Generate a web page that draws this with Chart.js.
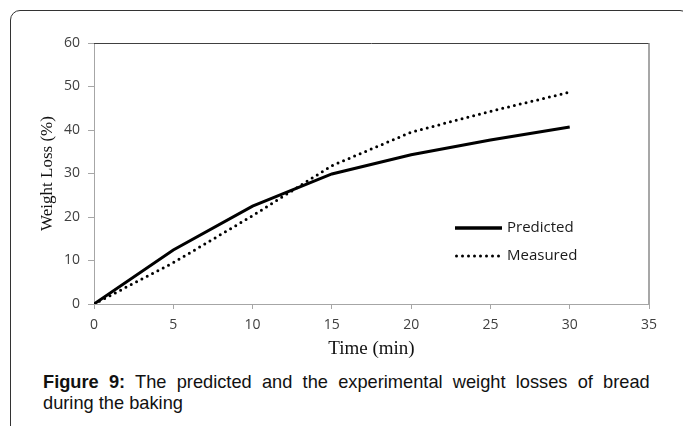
<!DOCTYPE html>
<html>
<head>
<meta charset="utf-8">
<script src="https://cdn.jsdelivr.net/npm/chart.js@4.4.0/dist/chart.umd.min.js"></script>
<style>
  html, body { margin: 0; padding: 0; background: #fff; width: 683px; height: 426px; overflow: hidden; }
  #frame { position: absolute; left: 10px; top: 10px; width: 680px; height: 440px;
           border: 1px solid #333; border-radius: 10px; box-sizing: border-box; }
  #wrap { position: absolute; left: 0; top: 0; width: 683px; height: 370px; }
  .cap { position: absolute; left: 43px; width: 632px; font-family: "Liberation Sans", Arial, sans-serif;
         font-size: 19px; line-height: 21px; color: #111; white-space: nowrap;
         transform: scaleX(0.96); transform-origin: left top; }
  #cap1 { top: 371px; text-align: justify; text-align-last: justify; white-space: normal; }
  #cap2 { top: 392px; }
</style>
</head>
<body>
<div id="frame"></div>
<div id="wrap"><canvas id="lossChart" width="683" height="370"></canvas></div>
<div class="cap" id="cap1"><b>Figure 9:</b> The predicted and the experimental weight losses of bread</div>
<div class="cap" id="cap2">during the baking</div>
<script>
// values
const times = [0, 5, 10, 15, 20, 25, 30];
const predicted = [0, 12.4, 22.5, 29.9, 34.3, 37.7, 40.7];
const measured = [0, 9.5, 20.3, 31.8, 39.5, 44.3, 48.7];
const seriesNames = ['Predicted', 'Measured'];

const toPoints = (xs, ys) => xs.map((x, i) => ({ x: x, y: ys[i] }));

// box around plot + legend inside the plot area
const framePlugin = {
    id: 'frameAndLegend',
    afterDraw(chart) {
        const { ctx, chartArea: a } = chart;
        ctx.save();
        ctx.lineWidth = 1;
        ctx.strokeStyle = '#404040';
        ctx.beginPath();
        ctx.moveTo(a.left, a.top + 0.5);
        ctx.lineTo(a.right, a.top + 0.5);
        ctx.stroke();
        ctx.strokeStyle = '#8a8a8a';
        ctx.lineWidth = 1.5;
        ctx.beginPath();
        ctx.moveTo(a.right, a.top);
        ctx.lineTo(a.right, a.bottom);
        ctx.stroke();

        // legend
        const lx = 455, lw = 47;
        const rows = [228, 256];
        chart.data.datasets.forEach((ds, i) => {
            const y = rows[i];
            ctx.beginPath();
            ctx.strokeStyle = ds.borderColor;
            ctx.lineWidth = i === 0 ? 3.5 : 3;
            ctx.lineCap = ds.borderCapStyle || 'butt';
            ctx.setLineDash(ds.borderDash || []);
            ctx.moveTo(lx + (i === 1 ? 1.5 : 0), y);
            ctx.lineTo(lx + lw, y);
            ctx.stroke();
            ctx.setLineDash([]);
            ctx.fillStyle = '#1a1a1a';
            ctx.font = '15px "Open Sans", sans-serif';
            ctx.textBaseline = 'middle';
            ctx.fillText(ds.label, lx + lw + 5, y);
        });
        ctx.restore();
    }
};

new Chart(document.getElementById('lossChart').getContext('2d'), {
    type: 'line',
    data: {
        datasets: [{
            label: seriesNames[0],
            data: toPoints(times, predicted),
            borderColor: '#000',
            borderWidth: 3,
            pointRadius: 0,
            tension: 0
        }, {
            label: seriesNames[1],
            data: toPoints(times, measured),
            borderColor: '#000',
            borderWidth: 3,
            borderDash: [0, 6],
            borderCapStyle: 'round',
            pointRadius: 0,
            tension: 0
        }]
    },
    options: {
        responsive: false,
        animation: false,
        devicePixelRatio: 1,
        layout: { padding: { left: 0, top: 43, right: 34, bottom: 0 } },
        plugins: { legend: { display: false }, tooltip: { enabled: false } },
        scales: {
            x: {
                type: 'linear',
                min: 0, max: 35,
                ticks: { stepSize: 5, color: '#404040', padding: 8, font: { family: 'Open Sans', size: 14 } },
                grid: { drawOnChartArea: false, tickLength: 5, color: '#a6a6a6' },
                border: { color: '#a6a6a6' },
                title: { display: true, text: 'Time (min)', color: '#111',
                         font: { family: 'Liberation Serif', size: 19 }, padding: { top: 0, bottom: 10 } },
                afterFit(scale) { scale.height = 66; }
            },
            y: {
                min: 0, max: 60,
                ticks: { stepSize: 10, color: '#404040', padding: 8, font: { family: 'Open Sans', size: 14 } },
                grid: { drawOnChartArea: false, tickLength: 6, color: '#a6a6a6' },
                border: { color: '#a6a6a6' },
                title: { display: true, text: 'Weight Loss (%)', color: '#111',
                         font: { family: 'Liberation Serif', size: 17 }, padding: { top: 37, bottom: 0 } },
                afterFit(scale) { scale.width = 94; }
            }
        }
    },
    plugins: [framePlugin]
});
</script>
</body>
</html>
